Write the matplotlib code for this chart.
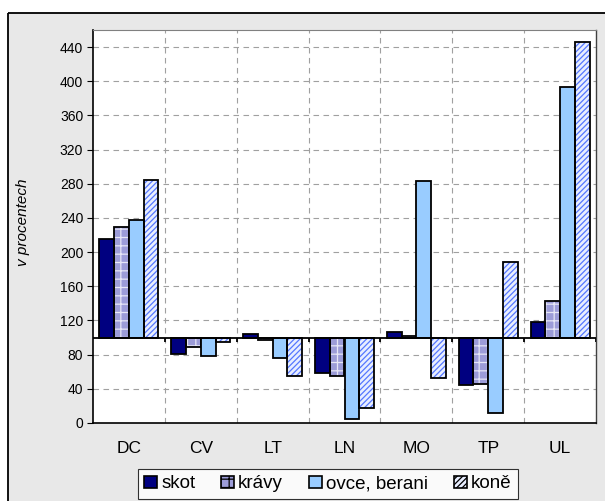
import matplotlib
matplotlib.use("Agg")
import matplotlib.pyplot as plt
from matplotlib.patches import Rectangle
from matplotlib.lines import Line2D
import numpy as np

plt.rcParams['font.family'] = ['Liberation Sans', 'DejaVu Sans']
plt.rcParams['hatch.linewidth'] = 0.9

categories = ["DC", "CV", "LT", "LN", "MO", "TP", "UL"]
series_names = ["skot", "krávy", "ovce, berani", "koně"]
skot = [215, 81, 104, 59, 107, 45, 118]
kravy = [229, 89, 97, 55, 102, 46, 143]
ovce = [238, 78, 76, 5, 283, 12, 393]
kone = [285, 95, 55, 17, 53, 188, 446]
yticks = list(range(0, 441, 40))
baseline = 100

series = [skot, kravy, ovce, kone]
faces = ['#000080', '#9c9cd8', '#99ccff', '#e8eeff']
hatches = [None, '++', None, '//////']
hatch_cols = [None, '#e6e6f6', None, '#5577ff']

fig = plt.figure(figsize=(6.05, 5.01), dpi=100, facecolor='white')
W, H = 605, 501
# outer gray frame (extends past right and bottom edges)
fl, ft = 8 / W, 1 - 13 / H
fig.patches.append(Rectangle((fl, -0.01), 1.02 - fl, ft + 0.01, transform=fig.transFigure,
                             facecolor='#e8e8e8', edgecolor='none', linewidth=0, zorder=0))
fig.lines.append(Line2D([fl, fl], [0, ft], transform=fig.transFigure,
                        color='black', linewidth=1.3, zorder=0.5, solid_capstyle='butt'))
fig.lines.append(Line2D([fl, 1.01], [ft, ft], transform=fig.transFigure,
                        color='black', linewidth=1.3, zorder=0.5, solid_capstyle='butt'))

ax = fig.add_axes([93 / W, 1 - 423 / H, (596 - 93) / W, (423 - 30) / H])
ax.set_facecolor('white')
ax.set_zorder(1)

x = np.arange(len(categories))
bw = 0.205
offsets = [-1.5 * bw, -0.5 * bw, 0.5 * bw, 1.5 * bw]
for vals, off, fc, ht, hc, name in zip(series, offsets, faces, hatches, hatch_cols, series_names):
    h = np.array(vals) - baseline
    if ht is not None:
        ax.bar(x + off, h, bw, bottom=baseline, facecolor=fc, hatch=ht,
               edgecolor=hc, linewidth=0, zorder=3)
        ax.bar(x + off, h, bw, bottom=baseline, facecolor='none',
               edgecolor='black', linewidth=1.3, zorder=4)
    else:
        ax.bar(x + off, h, bw, bottom=baseline, facecolor=fc,
               edgecolor='black', linewidth=1.3, zorder=4)

ax.set_xlim(-0.5, len(categories) - 0.5)
ax.set_ylim(0, 460)
ax.set_yticks(yticks)
ax.set_yticklabels([str(t) for t in yticks], fontsize=10)
ax.set_xticks(x)
ax.set_xticklabels(categories, fontsize=12.5)
ax.tick_params(axis='x', length=0, pad=13)
ax.tick_params(axis='y', length=4, width=0.8, direction='out', pad=3)

# grid
for t in yticks[1:]:
    ax.axhline(t, color='#a0a0a0', linewidth=0.8, linestyle=(0, (5, 4)), zorder=1)
bounds = np.arange(len(categories) + 1) - 0.5
for b in bounds[1:-1]:
    ax.axvline(b, color='#a0a0a0', linewidth=0.8, linestyle=(0, (5, 4)), zorder=1)

# baseline axis at 100 with boundary ticks
ax.axhline(baseline, color='black', linewidth=1.3, zorder=5)
ax.vlines(bounds[1:], baseline - 5, baseline, color='black', linewidth=1.3, zorder=5)

ax.spines['top'].set_color('#808080')
ax.spines['top'].set_linewidth(0.8)
ax.spines['right'].set_color('#404040')
ax.spines['right'].set_linewidth(1.0)
ax.spines['left'].set_linewidth(1.2)
ax.spines['bottom'].set_linewidth(1.2)

fig.text(23 / W, 1 - 222 / H, "v procentech", rotation=90, style='italic',
         fontsize=11, ha='center', va='center')

# legend
handles = []
for fc, ht, hc in zip(faces, hatches, hatch_cols):
    if ht is None:
        handles.append(Rectangle((0, 0), 1, 1, facecolor=fc, edgecolor='black', linewidth=1.2))
    else:
        handles.append(Rectangle((0, 0), 1, 1, facecolor=fc, hatch=ht, edgecolor='black', linewidth=1.2))
leg = fig.legend(handles, series_names, ncol=4, loc='center',
                 bbox_to_anchor=(328 / W, 1 - 484 / H), fontsize=13.5,
                 frameon=True, fancybox=False, handlelength=0.67, handleheight=0.67,
                 handletextpad=0.22, columnspacing=1.4, borderpad=0.35,
                 borderaxespad=0)
leg.get_frame().set_edgecolor('black')
leg.get_frame().set_linewidth(0.8)

fig.savefig("out.png", dpi=100, facecolor='white')
